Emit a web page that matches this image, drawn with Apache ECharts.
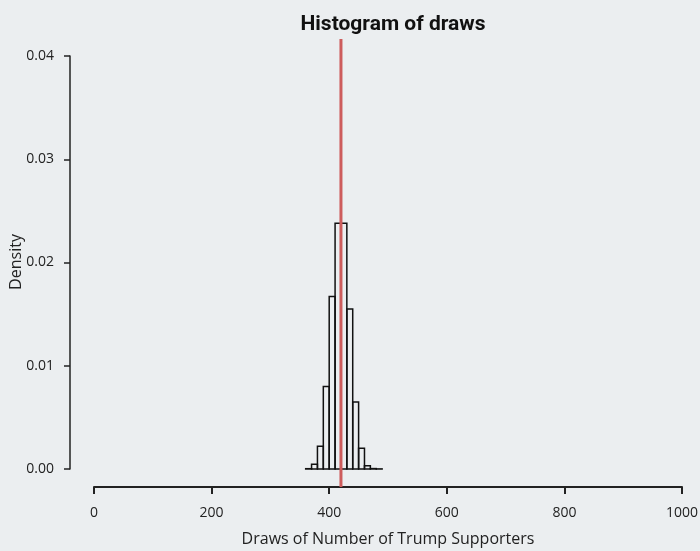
<!DOCTYPE html>
<html>
<head>
<meta charset="utf-8">
<script src="https://cdn.jsdelivr.net/npm/echarts@6/dist/echarts.min.js"></script>
<style>html,body{margin:0;padding:0;background:#ebeef0;}#c{width:700px;height:551px;}</style>
</head>
<body>
<div id="c"></div>
<script>
const binStarts = [360, 370, 380, 390, 400, 410, 420, 430, 440, 450, 460, 470, 480];
const binWidth = 10;
const densities = [0.00003, 0.00046, 0.0022, 0.0080, 0.0167, 0.0238, 0.0238, 0.0155, 0.0065, 0.0020, 0.00032, 0.00004, 0.00001];
const trueValue = 420;
const xTicks = [0, 200, 400, 600, 800, 1000];
const yTicks = [0, 0.01, 0.02, 0.03, 0.04];

const font = '"Open Sans", Roboto, sans-serif';
const chart = echarts.init(document.getElementById('c'), null, {renderer: 'canvas'});
const bars = binStarts.map((s, i) => [s, s + binWidth, densities[i]]);

chart.setOption({
  backgroundColor: '#ebeef0',
  animation: false,
  title: {
    text: 'Histogram of draws',
    left: 388, top: 9, textAlign: 'center',
    textStyle: {fontFamily: 'Roboto', fontWeight: 'bold', fontSize: 21, color: '#111'}
  },
  graphic: [{
    type: 'text',
    x: 16, y: 262,
    rotation: Math.PI / 2,
    style: {text: 'Density', fontFamily: font, fontSize: 16, fill: '#222',
      align: 'center', verticalAlign: 'middle'}
  }],
  grid: {left: 94, right: 18, top: 56, bottom: 82, containLabel: false, outerBoundsMode: 'none'},
  xAxis: {
    type: 'value', min: xTicks[0], max: xTicks[xTicks.length - 1], interval: 200,
    offset: 18,
    name: 'Draws of Number of Trump Supporters', nameLocation: 'middle', nameGap: 44,
    nameTextStyle: {fontFamily: font, fontSize: 16, color: '#222'},
    axisLine: {show: true, onZero: false, lineStyle: {color: '#222', width: 2}},
    axisTick: {show: true, length: 7, lineStyle: {color: '#222', width: 2}},
    axisLabel: {margin: 19, fontFamily: font, fontSize: 14, color: '#222',
      formatter: v => String(v)},
    splitLine: {show: false}
  },
  yAxis: {
    type: 'value', min: yTicks[0], max: yTicks[yTicks.length - 1], interval: 0.01,
    offset: 24,
    axisLine: {show: true, onZero: false, lineStyle: {color: '#222', width: 1.5}},
    axisTick: {show: true, length: 6, lineStyle: {color: '#222', width: 1.5}},
    axisLabel: {margin: 16, fontFamily: font, fontSize: 14, color: '#222',
      formatter: v => v.toFixed(2)},
    splitLine: {show: false}
  },
  series: [
    {
      type: 'custom',
      clip: false,
      data: bars,
      renderItem: function (params, api) {
        const p0 = api.coord([api.value(0), api.value(2)]);
        const p1 = api.coord([api.value(1), 0]);
        return {
          type: 'rect',
          shape: {x: p0[0], y: p0[1], width: p1[0] - p0[0], height: p1[1] - p0[1]},
          style: {fill: 'none', stroke: '#111', lineWidth: 1.5}
        };
      }
    },
    {
      type: 'custom',
      clip: false,
      data: [[trueValue]],
      z: 5,
      renderItem: function (params, api) {
        const top = api.coord([api.value(0), yTicks[yTicks.length - 1]]);
        const bot = api.coord([api.value(0), yTicks[0]]);
        return {
          type: 'line',
          shape: {x1: top[0], y1: top[1] - 17, x2: bot[0], y2: bot[1] + 18},
          style: {stroke: '#cd5c5c', lineWidth: 3}
        };
      }
    }
  ]
});
</script>
</body>
</html>
